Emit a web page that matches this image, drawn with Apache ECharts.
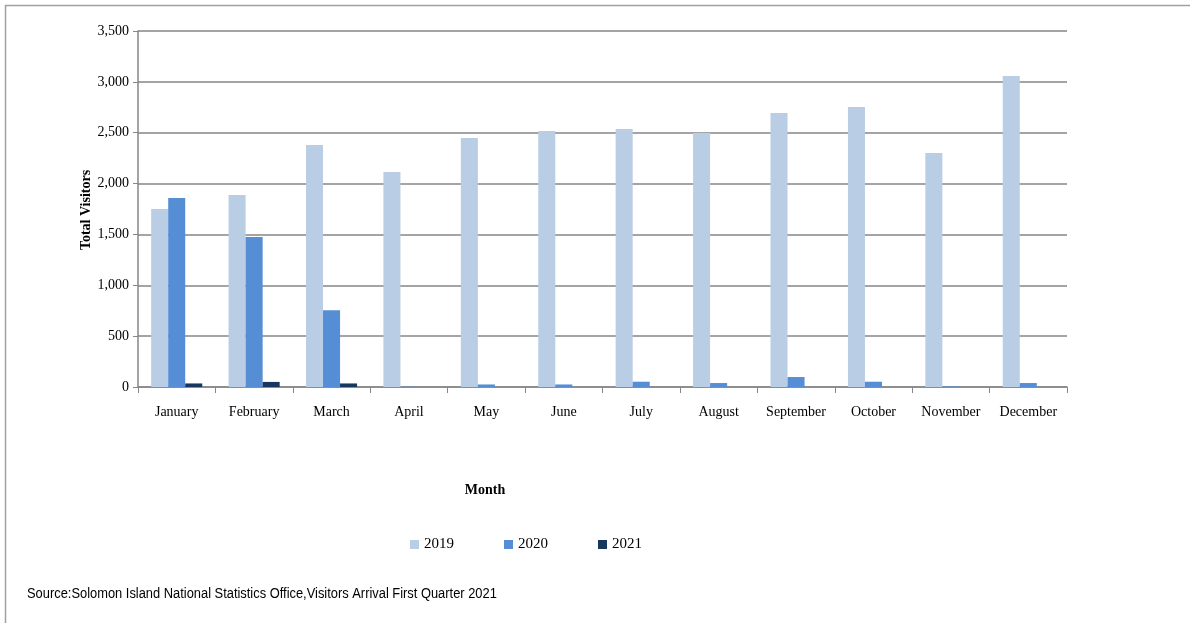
<!DOCTYPE html>
<html>
<head>
<meta charset="utf-8">
<script src="https://cdn.jsdelivr.net/npm/echarts@6/dist/echarts.min.js"></script>
<style>
html,body{margin:0;padding:0;background:#fff;}
#chart{width:1190px;height:623px;}
</style>
</head>
<body>
<div id="chart"></div>
<script>
const months = ['January','February','March','April','May','June','July','August','September','October','November','December'];
const seriesNames = ['2019','2020','2021'];
const v2019 = [1750, 1888, 2380, 2114, 2448, 2517, 2537, 2497, 2694, 2753, 2300, 3058];
const v2020 = [1858, 1475, 754, 3, 25, 25, 52, 39, 98, 52, 5, 39];
const v2021 = [35, 50, 35, 0, 0, 0, 0, 0, 0, 0, 0, 0];
const yTicks = [0, 500, 1000, 1500, 2000, 2500, 3000, 3500];
const colors = ['#b9cde5', '#558ed5', '#17375e'];

const chart = echarts.init(document.getElementById('chart'));
const serif = '"Liberation Serif", "Times New Roman", serif';
const mkSeries = (name, data, color) => ({
  name, type: 'bar', data,
  barGap: '0%', barCategoryGap: '34%',
  itemStyle: { color },
  emphasis: { disabled: true }
});
chart.setOption({
  animation: false,
  backgroundColor: '#fff',
  graphic: [
    { type: 'rect', shape: { x: 5.5, y: 5.5, width: 1200, height: 640 }, style: { fill: 'none', stroke: '#a0a0a0', lineWidth: 1.5 }, silent: true },
    { type: 'text', x: 27, y: 587, scaleX: 0.92, style: { text: 'Source:Solomon Island National Statistics Office,Visitors Arrival First Quarter 2021', font: '14px "Liberation Sans Narrow", "Liberation Sans", sans-serif', fill: '#000' } },
    { type: 'text', x: 485, y: 490, style: { text: 'Month', font: 'bold 14px "Liberation Serif", serif', fill: '#000', align: 'center', verticalAlign: 'middle' } },
    { type: 'text', x: 86, y: 210, rotation: Math.PI / 2, style: { text: 'Total Visitors', font: 'bold 14px "Liberation Serif", serif', fill: '#000', align: 'center', verticalAlign: 'middle' } }
  ],
  legend: {
    data: seriesNames,
    left: 405, top: 532,
    itemWidth: 9, itemHeight: 9, itemGap: 50,
    icon: 'rect',
    textStyle: { fontFamily: serif, fontSize: 15, color: '#000' },
    selectedMode: false
  },
  grid: { left: 138, right: 123, top: 31, bottom: 236, containLabel: false },
  xAxis: {
    type: 'category', data: months,
    axisLine: { lineStyle: { color: '#868686', width: 1.5 } },
    axisTick: { show: true, alignWithLabel: false, length: 6, lineStyle: { color: '#868686' } },
    axisLabel: { fontFamily: serif, fontSize: 14, color: '#000', margin: 18, interval: 0 }
  },
  yAxis: {
    type: 'value', min: yTicks[0], max: yTicks[yTicks.length - 1], interval: 500,
    axisLine: { show: true, lineStyle: { color: '#868686', width: 1.5 } },
    axisTick: { show: true, length: 5, lineStyle: { color: '#868686' } },
    axisLabel: { fontFamily: serif, fontSize: 14, color: '#000', margin: 9,
      formatter: v => v.toLocaleString('en-US') },
    splitLine: { lineStyle: { color: '#868686', width: 1.5 } }
  },
  series: [
    mkSeries(seriesNames[0], v2019, colors[0]),
    mkSeries(seriesNames[1], v2020, colors[1]),
    mkSeries(seriesNames[2], v2021, colors[2])
  ]
});
</script>
</body>
</html>
